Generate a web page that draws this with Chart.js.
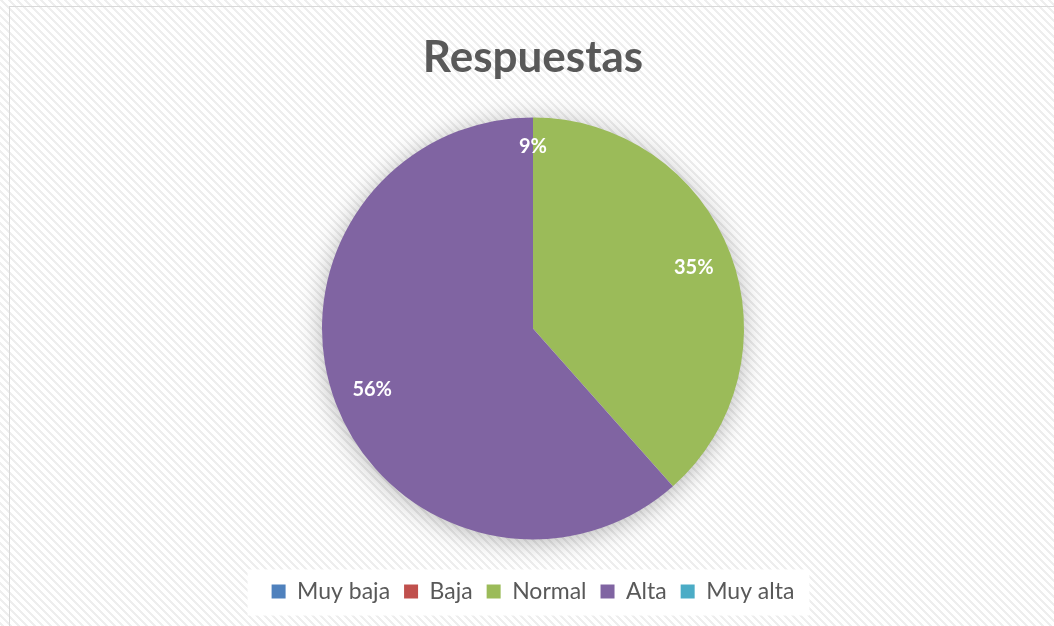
<!DOCTYPE html>
<html>
<head>
<meta charset="utf-8">
<script src="https://cdn.jsdelivr.net/npm/chart.js@4/dist/chart.umd.min.js"></script>
<style>
  html, body { margin: 0; padding: 0; background: #fff; }
  #wrap { width: 1054px; height: 626px; }
</style>
</head>
<body>
<div id="wrap"><canvas id="pieChart" width="1054" height="626"></canvas></div>
<script>
// data
const categories = ["Muy baja", "Baja", "Normal", "Alta", "Muy alta"];
const responses = [0, 0, 35, 56, 0];
const labelText = ["", "", "35%", "56%", "9%"];
const colors = ["#4F81BD", "#C0504D", "#9BBB59", "#8064A2", "#4BACC6"];

const TEXT_GREY = "#595959";
Chart.defaults.font.family = "Lato, 'Open Sans', sans-serif";

/* hatched background + thin frame */
function makeHatch() {
    const tile = document.createElement("canvas");
    tile.width = 8;
    tile.height = 8;
    const t = tile.getContext("2d");
    t.fillStyle = "#ffffff";
    t.fillRect(0, 0, 8, 8);
    t.fillStyle = "#eeeeee";
    for (let y = 0; y < 8; y++) {
        for (let x = 0; x < 8; x++) {
            if (((x - y) % 8 + 8) % 8 < 3) t.fillRect(x, y, 1, 1);
        }
    }
    return tile;
}

const backgroundPlugin = {
    id: "bgHatch",
    beforeDraw(chart) {
        const ctx = chart.ctx;
        ctx.save();
        ctx.fillStyle = ctx.createPattern(makeHatch(), "repeat");
        ctx.fillRect(0, 0, chart.width, chart.height);
        ctx.strokeStyle = "#d9d9d9";
        ctx.lineWidth = 1;
        ctx.strokeRect(9.5, 6.5, chart.width, chart.height);

        // white box behind the legend
        const boxes = chart.legend.legendHitBoxes;
        if (boxes && boxes.length) {
            const left = Math.min(...boxes.map(b => b.left)) - 24;
            const right = Math.max(...boxes.map(b => b.left + b.width)) + 15;
            const mid = boxes[0].top + boxes[0].height / 2;
            ctx.fillStyle = "#ffffff";
            ctx.fillRect(left, mid - 22, right - left, 46);
        }
        ctx.restore();
    }
};

/* soft shadow under the whole pie */
const shadowPlugin = {
    id: "pieShadow",
    beforeDatasetsDraw(chart) {
        const arc = chart.getDatasetMeta(0).data[0];
        if (!arc) return;
        const { x, y, outerRadius } = arc.getProps(["x", "y", "outerRadius"], true);
        const ctx = chart.ctx;
        ctx.save();
        ctx.shadowColor = "rgba(0,0,0,0.3)";
        ctx.shadowBlur = 26;
        ctx.shadowOffsetY = 3;
        ctx.fillStyle = "#ffffff";
        ctx.beginPath();
        ctx.arc(x, y, outerRadius - 1, 0, Math.PI * 2);
        ctx.fill();
        ctx.restore();
    }
};

/* percentage labels inside slices */
const labelPlugin = {
    id: "sliceLabels",
    afterDatasetsDraw(chart) {
        const ctx = chart.ctx;
        ctx.save();
        ctx.fillStyle = "#ffffff";
        ctx.font = "bold 20px Lato, sans-serif";
        ctx.textAlign = "center";
        ctx.textBaseline = "middle";
        chart.getDatasetMeta(0).data.forEach((arc, i) => {
            const txt = labelText[i];
            if (!txt) return;
            const p = arc.getProps(["x", "y", "startAngle", "endAngle", "outerRadius"], true);
            const mid = (p.startAngle + p.endAngle) / 2;
            const r = p.outerRadius * (p.endAngle - p.startAngle < 1e-6 ? 0.86 : 0.815);
            ctx.fillText(txt, p.x + Math.cos(mid) * r, p.y + Math.sin(mid) * r);
        });
        ctx.restore();
    }
};

new Chart(document.getElementById("pieChart").getContext("2d"), {
    type: "pie",
    data: {
        labels: categories,
        datasets: [{
            data: responses,
            backgroundColor: colors,
            borderWidth: 0,
            radius: 211
        }]
    },
    options: {
        responsive: false,
        animation: false,
        layout: {
            padding: { top: 0, left: 12, right: 0, bottom: 13 }
        },
        plugins: {
            title: {
                display: true,
                text: "Respuestas",
                color: TEXT_GREY,
                font: { size: 44, weight: "bold" },
                padding: { top: 31, bottom: 7 }
            },
            legend: {
                position: "bottom",
                labels: {
                    color: TEXT_GREY,
                    font: { size: 23 },
                    boxWidth: 14,
                    boxHeight: 14,
                    padding: 14
                }
            },
            tooltip: { enabled: false }
        }
    },
    plugins: [backgroundPlugin, shadowPlugin, labelPlugin]
});
</script>
</body>
</html>
